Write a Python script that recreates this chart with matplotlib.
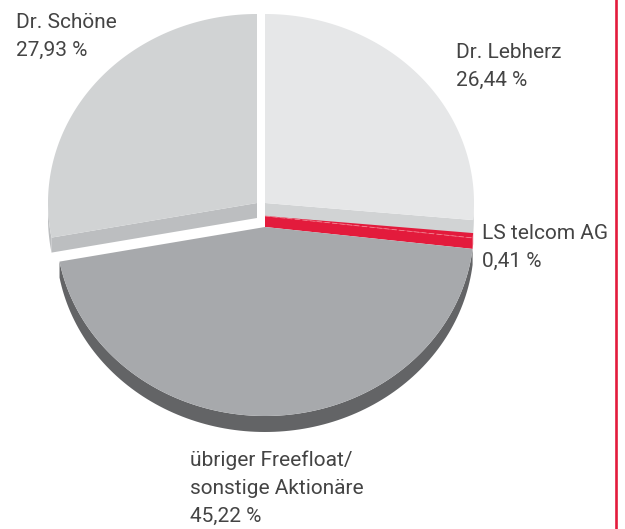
import numpy as np
import matplotlib.pyplot as plt
from matplotlib.patches import Polygon

# slices clockwise from 12 o'clock
labels = ["Dr. Lebherz", "LS telcom AG", "übriger Freefloat/\nsonstige Aktionäre", "Dr. Schöne"]
shares = [26.44, 0.41, 45.22, 27.93]
share_text = ["26,44 %", "0,41 %", "45,22 %", "27,93 %"]

top_colors = ["#e6e7e8", "#e31b3c", "#a7a9ac", "#d1d3d4"]
side_colors = ["#d1d3d4", "#e31b3c", "#636466", "#bcbec0"]

# layout (pixel coords): apex of each slice, extrusion depth, label anchor
apex = [(265, 203), (265, 216), (265, 227), (257, 203)]
depth = [14, 11, 16, 15]
label_pos = [(456, 58), (482, 239), (190, 466), (16, 28)]
RX, RY = 209, 189

plt.rcParams['font.family'] = ['Roboto', 'DejaVu Sans']

fig = plt.figure(figsize=(6.25, 5.29), dpi=100)
ax = fig.add_axes([0, 0, 1, 1])
ax.set_xlim(0, 625)
ax.set_ylim(529, 0)
ax.axis("off")


def rim(cx, cy, th):
    t = np.radians(th)
    return cx + RX * np.sin(t), cy - RY * np.cos(t)


edges = np.concatenate([[0], np.cumsum(shares)]) / sum(shares) * 360

for i in [3, 0, 1, 2]:
    t1, t2 = edges[i], edges[i + 1]
    cx, cy = apex[i]
    d = depth[i]

    # outer wall, only the half facing the viewer
    a, b = max(t1, 90), min(t2, 270)
    if b > a:
        th = np.linspace(a, b, 120)
        x, y = rim(cx, cy, th)
        pts = np.column_stack([np.r_[x, x[::-1]], np.r_[y, y[::-1] + d]])
        ax.add_patch(Polygon(pts, closed=True, fc=side_colors[i], ec="none"))

    # radial cut faces turned towards the viewer
    for t, visible in ((t1, 180 < t1 < 360), (t2, 0 < t2 < 180)):
        if visible:
            rx, ry = rim(cx, cy, t)
            pts = [(cx, cy), (rx, ry), (rx, ry + d), (cx, cy + d)]
            ax.add_patch(Polygon(pts, closed=True, fc=side_colors[i], ec="none"))

    # top face
    th = np.linspace(t1, t2, 200)
    x, y = rim(cx, cy, th)
    pts = np.column_stack([np.r_[cx, x], np.r_[cy, y]])
    ax.add_patch(Polygon(pts, closed=True, fc=top_colors[i], ec="none"))

# faint edge line on the red slice
cx, cy = apex[1]
ex, ey = rim(cx, cy, edges[2])
ax.plot([cx, ex], [cy, ey], color="#f2808f", lw=0.6, ls=(0, (6, 3)))

# labels
for i in range(len(labels)):
    x0, y0 = label_pos[i]
    lines = labels[i].split("\n") + [share_text[i]]
    for k, line in enumerate(lines):
        ax.text(x0, y0 + k * 28, line, fontsize=15, color="#444444",
                ha="left", va="baseline")

# red rule at the right edge
ax.axvline(616, color="#e31b3c", lw=1.9)

plt.savefig("out.png", dpi=100)
